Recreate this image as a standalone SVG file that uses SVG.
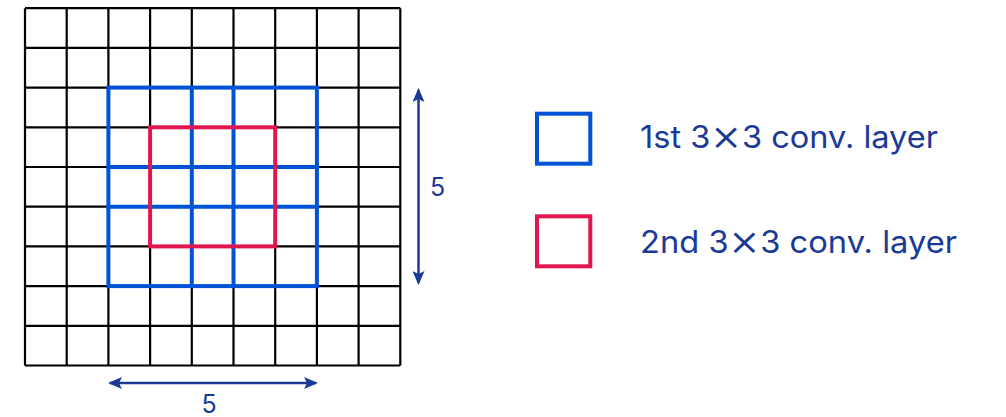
<svg xmlns="http://www.w3.org/2000/svg" width="1006" height="417" viewBox="0 0 1006 417">
<defs>
<style>
.grid line{stroke:#000;stroke-width:2.2}
.blue{stroke:#0052d6;stroke-width:4;fill:none;stroke-linecap:square}
.red{stroke:#e0174f;stroke-width:4;fill:none}
.dim{stroke:#1a3a96;stroke-width:2.5;fill:none}
.t{font-family:Inter,"Noto Sans",sans-serif;fill:#1a3a96}
.x{font-size:46px;font-weight:300}
</style>
<marker id="ah" viewBox="0 0 14 12" refX="12" refY="6" markerWidth="14" markerHeight="12" markerUnits="userSpaceOnUse" orient="auto-start-reverse">
<path d="M0,0 L14,6 L0,12 L3,6 Z" fill="#1a3a96"/>
</marker>
</defs>
<rect width="1006" height="417" fill="#fff"/>
<g id="grid" class="grid">
<line x1="25" y1="8.2" x2="25" y2="365.5"/>
<line x1="66.7" y1="8.2" x2="66.7" y2="365.5"/>
<line x1="108.4" y1="8.2" x2="108.4" y2="365.5"/>
<line x1="150.1" y1="8.2" x2="150.1" y2="365.5"/>
<line x1="191.8" y1="8.2" x2="191.8" y2="365.5"/>
<line x1="233.5" y1="8.2" x2="233.5" y2="365.5"/>
<line x1="275.2" y1="8.2" x2="275.2" y2="365.5"/>
<line x1="316.9" y1="8.2" x2="316.9" y2="365.5"/>
<line x1="358.6" y1="8.2" x2="358.6" y2="365.5"/>
<line x1="400.3" y1="8.2" x2="400.3" y2="365.5"/>
<line x1="25" y1="8.2" x2="400.3" y2="8.2"/>
<line x1="25" y1="47.9" x2="400.3" y2="47.9"/>
<line x1="25" y1="87.6" x2="400.3" y2="87.6"/>
<line x1="25" y1="127.3" x2="400.3" y2="127.3"/>
<line x1="25" y1="167" x2="400.3" y2="167"/>
<line x1="25" y1="206.7" x2="400.3" y2="206.7"/>
<line x1="25" y1="246.4" x2="400.3" y2="246.4"/>
<line x1="25" y1="286.1" x2="400.3" y2="286.1"/>
<line x1="25" y1="325.8" x2="400.3" y2="325.8"/>
<line x1="25" y1="365.5" x2="400.3" y2="365.5"/>
</g>
<g id="layer1">
<rect class="blue" x="108.4" y="87.6" width="208.5" height="198.5"/>
<path class="blue" d="M191.8,87.6V286.1M233.5,87.6V286.1M108.4,167H316.9M108.4,206.7H316.9"/>
</g>
<g id="layer2">
<rect class="red" x="150.1" y="127.3" width="125.1" height="119.1"/>
</g>
<g id="connectors">
<line class="dim" x1="418.5" y1="90" x2="418.5" y2="283" marker-start="url(#ah)" marker-end="url(#ah)"/>
<line class="dim" x1="110" y1="383" x2="316" y2="383" marker-start="url(#ah)" marker-end="url(#ah)"/>
</g>
<g id="dim-labels">
<text class="t" x="437.5" y="196" font-size="25" text-anchor="middle">5</text>
<text class="t" x="209" y="413" font-size="25" text-anchor="middle">5</text>
</g>
<g id="legend1">
<rect class="blue" x="537" y="113.7" width="53.3" height="50"/>
<text class="t" x="640" y="147.7" font-size="31" textLength="298" lengthAdjust="spacingAndGlyphs">1st 3<tspan class="x" dy="3">×</tspan><tspan dy="-3">3 conv. layer</tspan></text>
</g>
<g id="legend2">
<rect class="red" x="537" y="216.3" width="53.3" height="50"/>
<text class="t" x="640" y="253.3" font-size="31" textLength="317" lengthAdjust="spacingAndGlyphs">2nd 3<tspan class="x" dy="3">×</tspan><tspan dy="-3">3 conv. layer</tspan></text>
</g>
</svg>
